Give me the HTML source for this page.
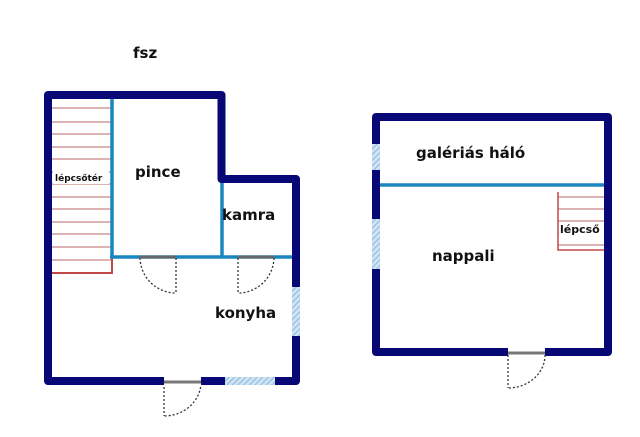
<!DOCTYPE html>
<html><head><meta charset="utf-8"><style>
html,body{margin:0;padding:0;background:#fff;}
svg{display:block}
text{font-family:"DejaVu Sans","Liberation Sans",sans-serif;font-weight:bold;fill:#111;}
</style></head><body>
<svg width="640" height="437" viewBox="0 0 640 437" xmlns="http://www.w3.org/2000/svg">
<defs>
<pattern id="h" width="4" height="4" patternUnits="userSpaceOnUse" patternTransform="rotate(45)">
<rect width="4" height="4" fill="#cfe3f3"/><line x1="0" y1="0" x2="0" y2="4" stroke="#8ab8dd" stroke-width="2"/>
</pattern>
</defs>
<text x="133" y="58" font-size="15">fsz</text>
<!-- stairs left -->
<g stroke="#b86a6a" stroke-width="1">
<line x1="52" y1="108" x2="112" y2="108"/><line x1="52" y1="122" x2="112" y2="122"/>
<line x1="52" y1="134" x2="112" y2="134"/><line x1="52" y1="147" x2="112" y2="147"/>
<line x1="52" y1="159" x2="112" y2="159"/><line x1="52" y1="172" x2="112" y2="172"/>
<line x1="52" y1="184" x2="112" y2="184"/><line x1="52" y1="197" x2="112" y2="197"/>
<line x1="52" y1="209" x2="112" y2="209"/><line x1="52" y1="222" x2="112" y2="222"/>
<line x1="52" y1="234" x2="112" y2="234"/><line x1="52" y1="247" x2="112" y2="247"/>
<line x1="52" y1="260" x2="112" y2="260"/>
</g>
<polyline points="52,273 112,273 112,257" fill="none" stroke="#c04848" stroke-width="2"/>
<rect x="53" y="171" width="56" height="13" fill="#fff"/>
<text x="55" y="181" font-size="9">lépcsőtér</text>
<!-- internal walls -->
<g stroke="#1a86c0" stroke-width="3.5" fill="none">
<line x1="112" y1="99" x2="112" y2="258"/>
<line x1="110" y1="257" x2="293" y2="257"/>
<line x1="222" y1="182" x2="222" y2="257"/>
</g>
<!-- outer walls -->
<path d="M48,381 L48,95 L221.5,95 L221.5,179 L296,179 L296,381 Z" fill="none" stroke="#070775" stroke-width="8" stroke-linejoin="round"/>
<!-- windows -->
<rect x="292" y="287" width="8" height="49" fill="url(#h)"/>
<rect x="225" y="377" width="50" height="8" fill="url(#h)"/>
<!-- doors -->
<g fill="none" stroke="#333" stroke-width="1.3" stroke-dasharray="2,2">
<line x1="176" y1="258" x2="176" y2="293"/><path d="M140,258 A36,36 0 0 0 176,293"/>
<line x1="238" y1="258" x2="238" y2="293"/><path d="M274,258 A36,36 0 0 1 238,293"/>
<line x1="164" y1="383" x2="164" y2="416"/><path d="M201,383 A37,34 0 0 1 164,416"/>
</g>
<line x1="140" y1="257" x2="176" y2="257" stroke="#666" stroke-width="3"/>
<line x1="238" y1="257" x2="274" y2="257" stroke="#666" stroke-width="3"/>
<rect x="164" y="377" width="37" height="8" fill="#fff"/>
<line x1="164" y1="382" x2="201" y2="382" stroke="#777" stroke-width="3"/>
<text x="135" y="177" font-size="15">pince</text>
<text x="222" y="220" font-size="15">kamra</text>
<text x="215" y="318" font-size="15">konyha</text>
<!-- right building -->
<line x1="380" y1="185" x2="604" y2="185" stroke="#1a86c0" stroke-width="3.5"/>
<g stroke="#b86a6a" stroke-width="1">
<line x1="558" y1="197" x2="604" y2="197"/><line x1="558" y1="209" x2="604" y2="209"/>
<line x1="558" y1="221" x2="604" y2="221"/><line x1="558" y1="233" x2="604" y2="233"/>
<line x1="558" y1="245" x2="604" y2="245"/>
</g>
<polyline points="558,192 558,250 604,250" fill="none" stroke="#c04848" stroke-width="1.5"/>
<rect x="559" y="222" width="45" height="14" fill="#fff"/>
<text x="560" y="233" font-size="11">lépcső</text>
<rect x="376" y="117" width="232" height="235" fill="none" stroke="#070775" stroke-width="8" stroke-linejoin="round"/>
<rect x="372" y="144" width="8" height="26" fill="url(#h)"/>
<rect x="372" y="219" width="8" height="50" fill="url(#h)"/>
<rect x="508" y="348" width="37" height="8" fill="#fff"/>
<line x1="508" y1="353" x2="545" y2="353" stroke="#777" stroke-width="3"/>
<g fill="none" stroke="#333" stroke-width="1.3" stroke-dasharray="2,2">
<line x1="508" y1="355" x2="508" y2="388"/><path d="M545,355 A37,33 0 0 1 508,388"/>
</g>
<text x="416" y="158" font-size="15">galériás háló</text>
<text x="432" y="261" font-size="15">nappali</text>
</svg>
</body></html>
